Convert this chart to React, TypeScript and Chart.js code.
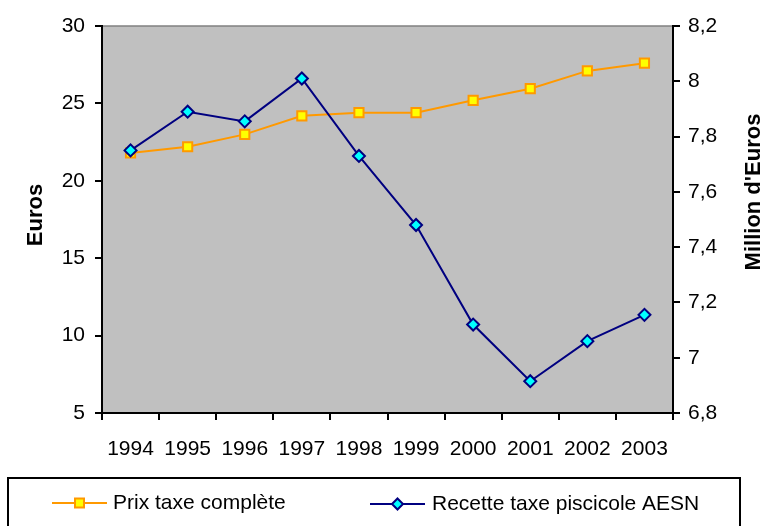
import React, { useEffect, useRef } from 'react';
import { Chart, registerables } from 'chart.js';

Chart.register(...registerables);

const years = ['1994', '1995', '1996', '1997', '1998', '1999', '2000', '2001', '2002', '2003'];
const prixTaxeComplete = [21.8, 22.2, 23.0, 24.2, 24.4, 24.4, 25.2, 25.95, 27.1, 27.6];
const recetteTaxePiscicole = [7.75, 7.89, 7.855, 8.01, 7.73, 7.48, 7.12, 6.915, 7.06, 7.155];
const seriesNames = ['Prix taxe complète', 'Recette taxe piscicole AESN'];
const leftAxisTitle = 'Euros';
const rightAxisTitle = "Million d'Euros";
const leftRange = { min: 5, max: 30, step: 5 };
const rightRange = { min: 6.8, max: 8.2, step: 0.2 };

const FONT = "'Liberation Sans', Arial, sans-serif";
const ORANGE = '#FF9900';
const YELLOW = '#FFFF00';
const NAVY = '#000080';
const CYAN = '#00FFFF';

const decorPlugin = {
  id: 'decor',
  beforeDraw(chart: any) {
    const { ctx, chartArea } = chart;
    ctx.save();
    ctx.fillStyle = '#C0C0C0';
    ctx.fillRect(chartArea.left, chartArea.top, chartArea.right - chartArea.left, chartArea.bottom - chartArea.top);
    ctx.strokeStyle = '#808080';
    ctx.lineWidth = 1.5;
    ctx.beginPath();
    ctx.moveTo(chartArea.left, chartArea.top);
    ctx.lineTo(chartArea.right, chartArea.top);
    ctx.stroke();
    ctx.restore();
  },
  afterDraw(chart: any) {
    const { ctx } = chart;
    ctx.save();
    // axis titles
    ctx.fillStyle = '#000';
    ctx.font = `bold 22px ${FONT}`;
    ctx.textAlign = 'center';
    ctx.textBaseline = 'middle';
    ctx.save();
    ctx.translate(36, 215);
    ctx.rotate(-Math.PI / 2);
    ctx.fillText(leftAxisTitle, 0, 0);
    ctx.restore();
    ctx.save();
    ctx.translate(754, 192);
    ctx.rotate(-Math.PI / 2);
    ctx.fillText(rightAxisTitle, 0, 0);
    ctx.restore();

    // legend box
    ctx.strokeStyle = '#000';
    ctx.lineWidth = 2;
    ctx.strokeRect(8, 478, 732, 60);

    const items = [
      { x0: 52, x1: 107, y: 503, tx: 113 },
      { x0: 370, x1: 425, y: 504, tx: 432 },
    ];
    chart.data.datasets.forEach((ds: any, i: number) => {
      const it = items[i];
      ctx.strokeStyle = ds.borderColor;
      ctx.lineWidth = 2;
      ctx.beginPath();
      ctx.moveTo(it.x0, it.y);
      ctx.lineTo(it.x1, it.y);
      ctx.stroke();
      const cx = (it.x0 + it.x1) / 2;
      ctx.fillStyle = ds.pointBackgroundColor;
      ctx.strokeStyle = ds.pointBorderColor;
      ctx.lineWidth = 2;
      ctx.beginPath();
      if (ds.pointStyle === 'rect') {
        const s = 4.5;
        ctx.rect(cx - s, it.y - s, 2 * s, 2 * s);
      } else {
        const r = 5.5;
        ctx.moveTo(cx, it.y - r);
        ctx.lineTo(cx + r, it.y);
        ctx.lineTo(cx, it.y + r);
        ctx.lineTo(cx - r, it.y);
        ctx.closePath();
      }
      ctx.fill();
      ctx.stroke();
      ctx.fillStyle = '#000';
      ctx.font = `21px ${FONT}`;
      ctx.textAlign = 'left';
      ctx.textBaseline = 'middle';
      ctx.fillText(ds.label, it.tx, it.y);
    });
    ctx.restore();
  },
};

export default function App() {
  const ref = useRef<HTMLCanvasElement>(null);
  useEffect(() => {
    if (!ref.current) return;
    const tickFont = { family: FONT, size: 21 };
    const chart = new Chart(ref.current, {
      type: 'line',
      data: {
        labels: years,
        datasets: [
          {
            label: seriesNames[0],
            data: prixTaxeComplete,
            yAxisID: 'y',
            borderColor: ORANGE,
            borderWidth: 2,
            pointStyle: 'rect',
            pointRadius: 6.5,
            pointBackgroundColor: YELLOW,
            pointBorderColor: ORANGE,
            pointBorderWidth: 2,
            tension: 0,
            order: 2,
          },
          {
            label: seriesNames[1],
            data: recetteTaxePiscicole,
            yAxisID: 'y1',
            borderColor: NAVY,
            borderWidth: 2,
            pointStyle: 'rectRot',
            pointRadius: 6,
            pointBackgroundColor: CYAN,
            pointBorderColor: NAVY,
            pointBorderWidth: 2,
            tension: 0,
            order: 1,
          },
        ],
      },
      options: {
        responsive: false,
        animation: false,
        devicePixelRatio: 1,
        layout: { padding: { left: 0, right: 0, top: 26, bottom: 0 } },
        plugins: { legend: { display: false }, tooltip: { enabled: false } },
        scales: {
          x: {
            type: 'category',
            offset: true,
            grid: { offset: true, drawOnChartArea: false, color: '#000', lineWidth: 2, tickLength: 7 },
            border: { color: '#000', width: 2 },
            ticks: { font: tickFont, color: '#000', padding: 17, maxRotation: 0, autoSkip: false },
            afterFit: (s: any) => { s.height = 113; },
          },
          y: {
            position: 'left',
            min: leftRange.min,
            max: leftRange.max,
            grid: { drawOnChartArea: false, color: '#000', lineWidth: 2, tickLength: 7 },
            border: { color: '#000', width: 2 },
            ticks: { stepSize: leftRange.step, font: tickFont, color: '#000', padding: 10 },
            afterFit: (s: any) => { s.width = 102; },
          },
          y1: {
            position: 'right',
            min: rightRange.min,
            max: rightRange.max,
            grid: { drawOnChartArea: false, color: '#000', lineWidth: 2, tickLength: 7 },
            border: { color: '#000', width: 2 },
            ticks: {
              stepSize: rightRange.step,
              font: tickFont,
              color: '#000',
              padding: 8,
              callback: (v: any) => String(Math.round(Number(v) * 10) / 10).replace('.', ','),
            },
            afterFit: (s: any) => { s.width = 92; },
          },
        },
      },
      plugins: [decorPlugin],
    });
    return () => chart.destroy();
  }, []);
  return (
    <div style={{ position: 'absolute', left: 0, top: 0, width: 765, height: 526, background: '#fff' }}>
      <canvas ref={ref} width={765} height={526} />
    </div>
  );
}
